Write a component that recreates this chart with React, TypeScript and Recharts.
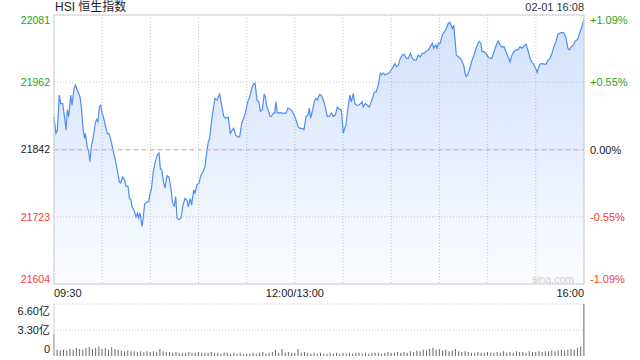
import { AreaChart, Area, XAxis, YAxis, CartesianGrid, ReferenceLine, BarChart, Bar } from "recharts";

// HSI intraday, 02-01 — minutes since 09:30 (lunch break removed), index level
const MINUTES = [
  0, 1.2, 2.1, 3.3, 4.2, 5.4, 6.8, 7.5, 8.3, 9.2, 10.4, 11.2, 12.5, 13.3, 14.5, 16.2, 17.0, 18.2, 19.1, 19.5,
  20.7, 21.6, 22.4, 23.2, 24.5, 25.7, 26.6, 27.4, 28.2, 29.1, 29.9, 30.7, 31.9, 33.2, 34.4, 35.7, 36.9, 38.2, 39.4, 40.7,
  41.5, 42.8, 44.0, 44.8, 46.1, 46.9, 47.8, 48.6, 49.8, 51.1, 51.9, 52.7, 53.5, 54.8, 55.6, 56.5, 57.7, 59.0, 59.8, 60.6,
  61.8, 63.1, 64.3, 65.4, 66.2, 67.1, 68.3, 69.1, 70.4, 71.6, 72.9, 73.7, 74.9, 75.8, 76.6, 77.8, 79.1, 80.3, 81.6, 82.8,
  83.6, 84.9, 85.7, 87.0, 87.8, 89.0, 90.3, 91.5, 92.8, 94.0, 95.3, 96.1, 96.9, 98.2, 99.4, 100.2, 101.5, 103.2, 104.4, 105.7,
  106.9, 108.5, 109.8, 111.0, 111.9, 113.1, 114.4, 115.6, 116.9, 118.1, 119.4, 120.6, 121.9, 123.1, 124.3, 125.2, 126.4, 127.6, 128.5, 129.7,
  130.9, 131.6, 132.5, 133.7, 134.5, 135.3, 136.6, 137.4, 138.2, 139.0, 140.7, 142.0, 143.2, 144.5, 145.7, 147.0, 148.2, 149.4, 150.7, 151.9,
  153.2, 154.4, 155.7, 156.9, 158.2, 159.0, 159.8, 161.1, 162.3, 163.1, 164.0, 165.2, 166.4, 167.7, 168.9, 170.2, 171.4, 172.7, 173.9, 175.2,
  176.4, 177.6, 178.9, 180.1, 181.0, 181.8, 183.1, 184.3, 185.1, 186.4, 187.2, 188.5, 189.7, 191.0, 191.8, 192.6, 193.8, 195.1, 196.3, 197.4,
  198.6, 199.4, 200.7, 201.9, 203.2, 204.0, 204.9, 206.1, 207.3, 208.6, 209.8, 211.1, 212.3, 213.1, 214.4, 215.6, 216.9, 218.1, 219.4, 220.6,
  221.9, 223.1, 224.3, 225.6, 226.8, 228.1, 229.3, 230.6, 231.8, 233.1, 234.3, 235.6, 236.4, 237.7, 238.5, 239.3, 240.5, 241.8, 243.0, 244.3,
  245.5, 246.4, 247.2, 248.0, 248.9, 249.7, 250.5, 251.8, 253.0, 254.2, 255.1, 255.9, 256.7, 257.6, 258.4, 260.3, 261.5, 262.8, 264.0, 264.8,
  265.7, 266.5, 267.7, 269.0, 270.2, 271.5, 272.7, 274.0, 275.2, 276.5, 277.7, 279.0, 280.2, 281.4, 282.7, 283.9, 285.2, 286.4, 287.7, 288.9,
  290.2, 291.4, 292.2, 293.1, 293.9, 294.7, 295.6, 296.4, 297.6, 298.4, 299.3, 300.1, 300.9, 301.8, 302.6, 303.9, 305.1, 306.4, 307.6, 308.8,
  310.1, 311.3, 312.6, 313.8, 315.1, 316.3, 317.6, 318.8, 320.0, 320.9, 322.1, 323.4, 324.6, 325.8, 326.7, 327.5, 328.3, 329.2, 330.0,
];

const PRICES = [
  21901, 21871, 21877, 21939, 21924, 21924, 21895, 21877, 21913, 21901, 21939, 21921, 21951, 21957, 21948, 21936, 21918, 21877, 21862, 21871,
  21847, 21839, 21821, 21847, 21865, 21889, 21896, 21892, 21918, 21921, 21907, 21901, 21886, 21871, 21870, 21856, 21839, 21824, 21806, 21785,
  21783, 21794, 21788, 21777, 21777, 21756, 21754, 21741, 21735, 21723, 21729, 21721, 21730, 21706, 21723, 21746, 21749, 21750, 21765, 21771,
  21803, 21821, 21833, 21836, 21809, 21806, 21783, 21774, 21796, 21794, 21771, 21750, 21741, 21759, 21721, 21718, 21721, 21744, 21756, 21753,
  21741, 21756, 21744, 21771, 21765, 21780, 21783, 21797, 21803, 21812, 21842, 21856, 21862, 21895, 21918, 21933, 21930, 21941, 21921, 21901,
  21898, 21900, 21871, 21877, 21880, 21868, 21865, 21865, 21889, 21898, 21910, 21927, 21936, 21951, 21959, 21960, 21930, 21927, 21910, 21913,
  21941, 21936, 21918, 21910, 21901, 21901, 21907, 21907, 21927, 21907, 21908, 21907, 21907, 21907, 21916, 21914, 21911, 21904, 21895, 21883,
  21880, 21880, 21878, 21901, 21904, 21916, 21898, 21913, 21930, 21933, 21930, 21940, 21939, 21930, 21918, 21901, 21901, 21907, 21901, 21904,
  21918, 21914, 21913, 21871, 21880, 21886, 21918, 21939, 21927, 21942, 21924, 21921, 21921, 21924, 21927, 21918, 21924, 21921, 21918, 21926,
  21936, 21944, 21945, 21957, 21978, 21975, 21978, 21975, 21976, 21978, 21983, 21989, 21995, 21989, 21992, 22004, 22010, 22011, 22004, 22004,
  22013, 22004, 22001, 22001, 22010, 22007, 22013, 22013, 22017, 22019, 22025, 22031, 22022, 22028, 22022, 22031, 22031, 22046, 22051, 22057,
  22066, 22068, 22063, 22057, 22063, 22037, 22010, 22007, 22004, 21998, 21992, 21978, 21972, 21976, 21981, 22001, 22010, 22022, 22031, 22034,
  22031, 22016, 22016, 22013, 22007, 22004, 22004, 22016, 22026, 22035, 22028, 22024, 22025, 22016, 22007, 21998, 22010, 22016, 22019, 22019,
  22025, 22022, 22025, 22028, 22029, 22022, 22013, 22004, 21997, 21995, 21989, 21985, 21979, 21989, 21994, 21995, 21994, 21994, 22001, 22004,
  22013, 22025, 22034, 22047, 22049, 22050, 22049, 22040, 22022, 22019, 22025, 22028, 22035, 22037, 22043, 22051, 22057, 22066, 22072,
];

// turnover per 2-minute bar, in 亿
const VOLUMES = [
  2.8,
  0.8, 0.7, 0.8, 0.7, 0.9, 0.8, 1.0, 0.9, 0.8, 1.0,
  1.1, 0.9, 1.0, 1.2, 0.9, 1.0, 0.8, 1.1, 0.9, 0.8,
  0.7, 0.6, 0.7, 0.6, 0.6, 0.5, 0.6, 0.5, 0.6, 0.5,
  0.6, 0.5, 0.9, 0.6, 0.5, 0.5, 0.4, 0.5, 0.4, 0.4,
  0.4, 0.5, 0.4, 0.4, 0.5, 0.4, 0.4, 0.4, 0.5, 0.4,
  0.4, 0.3, 0.4, 0.4, 0.3, 0.4, 0.3, 0.4, 0.3, 0.3,
  0.3, 0.4, 0.3, 0.4, 0.5, 0.3, 0.4, 0.5, 0.8, 0.4,
  0.9, 0.4, 0.5, 0.4, 0.4, 0.9, 0.4, 0.5, 0.4, 0.3,
  0.4, 0.3, 0.4, 0.3, 0.3, 0.4, 0.3, 0.4, 0.3, 0.4,
  0.3, 0.4, 0.3, 0.4, 0.4, 0.3, 0.4, 0.3, 0.4, 0.4,
  0.4, 0.3, 0.4, 0.5, 0.4, 0.4, 0.5, 0.4, 0.5, 0.4,
  0.6, 0.5, 0.7, 0.6, 0.8, 0.7, 0.9, 1.0, 0.8, 0.9,
  0.7, 0.8, 0.6, 0.7, 0.9, 0.6, 0.5, 0.6, 0.5, 0.4,
  0.4, 0.5, 0.4, 0.4, 0.5, 0.4, 0.4, 0.5, 0.4, 0.6,
  0.4, 0.5, 0.4, 0.6, 0.5, 0.5, 0.4, 0.6, 0.5, 0.5,
  0.6, 0.5, 0.6, 0.6, 0.7, 0.6, 0.7, 0.8, 0.7, 0.8,
  0.9, 0.8, 1.0, 1.2, 6.6,
];

const PREV_CLOSE = 21842;
const Y_TICKS = [21604, 21723, 21842, 21962, 22081];
const PCT_LABELS = ["-1.09%", "-0.55%", "0.00%", "+0.55%", "+1.09%"];
const X_TICKS = [0, 30, 60, 90, 120, 150, 180, 210, 240, 270, 300, 330];
const X_LABELS: Record<number, string> = { 0: "09:30", 150: "12:00/13:00", 330: "16:00" };
const VOL_TICKS = [0, 3.3, 6.6];
const VOL_LABELS = ["0", "3.30亿", "6.60亿"];

const GREEN = "#1ea31e";
const RED = "#ef3b3b";
const DARK = "#222";
const GRID = "#c8c8c8";
const BORDER = "#cfcfcf";
const FONT = '"Liberation Sans", Arial, "Noto Sans CJK SC", sans-serif';

const priceData = MINUTES.map((t, i) => ({ t, v: PRICES[i] }));
const volData = VOLUMES.map((v, i) => ({ t: i * 2, v }));

const YTick = (props: any) => {
  const { y, payload } = props;
  const v = payload.value;
  const i = Y_TICKS.indexOf(v);
  const color = v > PREV_CLOSE ? GREEN : v < PREV_CLOSE ? RED : DARK;
  // edge labels are pulled inside the plot
  const shift = i === 0 ? -5 : i === Y_TICKS.length - 1 ? 5 : 0;
  return (
    <g>
      <text x={50} y={y + shift} dy="0.35em" textAnchor="end" fill={color} fontSize={10.5} fontFamily={FONT}>
        {v}
      </text>
      <text x={590} y={y + shift} dy="0.35em" textAnchor="start" fill={color} fontSize={11} fontFamily={FONT}>
        {PCT_LABELS[i]}
      </text>
    </g>
  );
};

const XTick = (props: any) => {
  const { x, payload } = props;
  const label = X_LABELS[payload.value];
  if (!label) return null;
  const anchor = payload.value === 0 ? "start" : payload.value === 330 ? "end" : "middle";
  return (
    <text x={x} y={293} dy="0.35em" textAnchor={anchor} fill={DARK} fontSize={11} fontFamily={FONT}>
      {label}
    </text>
  );
};

const VolTick = (props: any) => {
  const { y, payload } = props;
  const i = VOL_TICKS.indexOf(payload.value);
  const shift = i === 0 ? -7 : i === VOL_TICKS.length - 1 ? 7 : 0;
  return (
    <text x={50} y={y + shift} dy="0.35em" textAnchor="end" fill={DARK} fontSize={11} fontFamily={FONT}>
      {VOL_LABELS[i]}
    </text>
  );
};

export default function App() {
  return (
    <div style={{ position: "absolute", left: 0, top: 0, width: 640, height: 360, background: "#fff", fontFamily: FONT }}>
      <div style={{ position: "absolute", left: 55, top: 0, lineHeight: "15px", fontSize: 12, color: DARK }}>HSI 恒生指数</div>
      <div style={{ position: "absolute", left: 0, width: 584, top: 0, lineHeight: "15px", fontSize: 11, color: "#333", textAlign: "right" }}>
        02-01 16:08
      </div>

      <div style={{ position: "absolute", left: 0, top: 0 }}>
        <AreaChart width={640} height={300} data={priceData} margin={{ top: 15, right: 56, bottom: 0, left: 0 }}>
          <defs>
            <linearGradient id="hsiFill" x1="0" y1="0" x2="0" y2="1">
              <stop offset="0%" stopColor="#3c7ef0" stopOpacity={0.23} />
              <stop offset="100%" stopColor="#3c7ef0" stopOpacity={0.02} />
            </linearGradient>
          </defs>
          <CartesianGrid stroke={GRID} strokeDasharray="1 2" />
          <XAxis
            dataKey="t"
            type="number"
            domain={[0, 330]}
            ticks={X_TICKS}
            interval={0}
            height={16}
            axisLine={false}
            tickLine={false}
            tick={<XTick />}
          />
          <YAxis
            domain={[21604, 22081]}
            ticks={Y_TICKS}
            interval={0}
            width={54}
            allowDataOverflow
            axisLine={false}
            tickLine={false}
            tick={<YTick />}
          />
          <Area
            dataKey="v"
            type="linear"
            stroke="#4f8ef0"
            strokeWidth={1.2}
            fill="url(#hsiFill)"
            fillOpacity={1}
            dot={false}
            activeDot={false}
            isAnimationActive={false}
          />
          <ReferenceLine y={PREV_CLOSE} stroke="#f2a27c" strokeDasharray="4 4" />
          <ReferenceLine y={22081} stroke={BORDER} />
          <ReferenceLine y={21604} stroke={BORDER} />
          <ReferenceLine x={0} stroke={BORDER} />
          <ReferenceLine x={330} stroke={BORDER} />
        </AreaChart>
      </div>

      <div style={{ position: "absolute", left: 532, top: 272, lineHeight: "14px", fontSize: 10.5, color: "#cfcfcf" }}>sina.com</div>

      <div style={{ position: "absolute", left: 0, top: 296 }}>
        <BarChart width={640} height={64} data={volData} margin={{ top: 8, right: 56, bottom: 4, left: 0 }}>
          <XAxis dataKey="t" type="number" domain={[0, 330]} hide />
          <YAxis
            domain={[0, 6.6]}
            ticks={VOL_TICKS}
            interval={0}
            width={54}
            allowDataOverflow
            axisLine={{ stroke: BORDER }}
            tickLine={false}
            tick={<VolTick />}
          />
          <ReferenceLine y={6.6} stroke={GRID} strokeDasharray="1 2" />
          <ReferenceLine y={3.3} stroke={GRID} strokeDasharray="1 2" />
          <Bar dataKey="v" fill="#666" barSize={1} isAnimationActive={false} />
        </BarChart>
      </div>
    </div>
  );
}
